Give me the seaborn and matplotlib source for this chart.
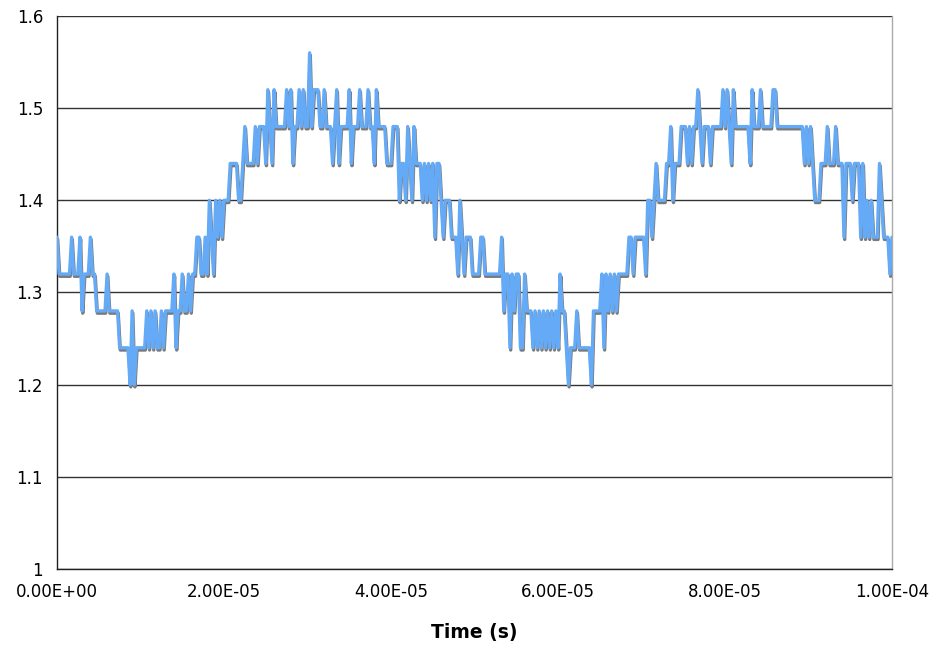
import numpy as np
import pandas as pd
import seaborn as sns
import matplotlib
matplotlib.use("Agg")
from matplotlib import pyplot as plt
from matplotlib import patheffects as pe
from matplotlib.ticker import FuncFormatter

# sampled waveform, one row per microsecond (4 samples of 0.25 us each)
SAMPLE_PERIOD = 0.25e-6
voltage = [
    1.36, 1.32, 1.32, 1.32,  1.32, 1.32, 1.32, 1.36,  1.32, 1.32, 1.32, 1.36,
    1.28, 1.32, 1.32, 1.32,  1.36, 1.32, 1.32, 1.28,  1.28, 1.28, 1.28, 1.28,
    1.32, 1.28, 1.28, 1.28,  1.28, 1.28, 1.24, 1.24,  1.24, 1.24, 1.24, 1.20,
    1.28, 1.20, 1.24, 1.24,  1.24, 1.24, 1.24, 1.28,  1.24, 1.28, 1.24, 1.28,
    1.24, 1.24, 1.28, 1.24,  1.28, 1.28, 1.28, 1.28,  1.32, 1.24, 1.28, 1.28,
    1.32, 1.28, 1.28, 1.32,  1.28, 1.32, 1.32, 1.36,  1.36, 1.32, 1.32, 1.36,
    1.32, 1.40, 1.36, 1.32,  1.40, 1.36, 1.40, 1.36,  1.40, 1.40, 1.40, 1.44,
    1.44, 1.44, 1.44, 1.40,  1.40, 1.44, 1.48, 1.44,  1.44, 1.44, 1.44, 1.48,
    1.44, 1.48, 1.48, 1.48,  1.44, 1.52, 1.48, 1.44,  1.52, 1.48, 1.48, 1.48,
    1.48, 1.48, 1.52, 1.48,  1.52, 1.44, 1.48, 1.48,  1.52, 1.48, 1.52, 1.48,
    1.48, 1.56, 1.48, 1.52,  1.52, 1.52, 1.48, 1.48,  1.52, 1.48, 1.48, 1.48,
    1.44, 1.48, 1.52, 1.44,  1.48, 1.48, 1.48, 1.48,  1.52, 1.44, 1.48, 1.48,
    1.48, 1.52, 1.48, 1.48,  1.48, 1.52, 1.48, 1.48,  1.44, 1.52, 1.48, 1.48,
    1.48, 1.48, 1.44, 1.44,  1.44, 1.48, 1.48, 1.48,  1.40, 1.44, 1.44, 1.40,
    1.48, 1.44, 1.40, 1.48,  1.44, 1.44, 1.44, 1.40,  1.44, 1.40, 1.44, 1.40,
    1.44, 1.36, 1.44, 1.44,  1.40, 1.36, 1.40, 1.40,  1.40, 1.36, 1.36, 1.36,
    1.32, 1.40, 1.36, 1.32,  1.36, 1.36, 1.36, 1.32,  1.32, 1.32, 1.32, 1.36,
    1.36, 1.32, 1.32, 1.32,  1.32, 1.32, 1.32, 1.32,  1.32, 1.36, 1.28, 1.32,
    1.32, 1.24, 1.32, 1.28,  1.32, 1.32, 1.24, 1.24,  1.32, 1.28, 1.28, 1.28,
    1.24, 1.28, 1.24, 1.28,  1.24, 1.28, 1.24, 1.28,  1.24, 1.28, 1.24, 1.28,
    1.24, 1.32, 1.28, 1.28,  1.24, 1.20, 1.24, 1.24,  1.24, 1.28, 1.24, 1.24,
    1.24, 1.24, 1.24, 1.24,  1.20, 1.28, 1.28, 1.28,  1.28, 1.32, 1.24, 1.32,
    1.28, 1.32, 1.28, 1.32,  1.28, 1.32, 1.32, 1.32,  1.32, 1.32, 1.36, 1.36,
    1.32, 1.36, 1.36, 1.36,  1.36, 1.36, 1.32, 1.40,  1.40, 1.36, 1.40, 1.44,
    1.40, 1.40, 1.40, 1.40,  1.44, 1.44, 1.48, 1.40,  1.44, 1.44, 1.44, 1.48,
    1.48, 1.48, 1.44, 1.48,  1.44, 1.48, 1.48, 1.52,  1.48, 1.44, 1.48, 1.48,
    1.48, 1.44, 1.48, 1.48,  1.48, 1.48, 1.48, 1.52,  1.48, 1.52, 1.48, 1.44,
    1.52, 1.48, 1.48, 1.48,  1.48, 1.48, 1.48, 1.48,  1.44, 1.52, 1.48, 1.48,
    1.48, 1.52, 1.48, 1.48,  1.48, 1.48, 1.48, 1.52,  1.52, 1.48, 1.48, 1.48,
    1.48, 1.48, 1.48, 1.48,  1.48, 1.48, 1.48, 1.48,  1.48, 1.48, 1.44, 1.48,
    1.44, 1.48, 1.44, 1.40,  1.40, 1.40, 1.44, 1.44,  1.44, 1.48, 1.44, 1.44,
    1.44, 1.48, 1.44, 1.44,  1.44, 1.36, 1.44, 1.44,  1.44, 1.40, 1.44, 1.44,
    1.44, 1.36, 1.44, 1.36,  1.40, 1.36, 1.40, 1.36,  1.36, 1.36, 1.44, 1.40,
    1.36, 1.36, 1.36, 1.32,
    1.36,
]
time_s = np.arange(len(voltage)) * SAMPLE_PERIOD

x_ticks = [0, 2e-5, 4e-5, 6e-5, 8e-5, 1e-4]
y_ticks = [1.0, 1.1, 1.2, 1.3, 1.4, 1.5, 1.6]
y_tick_labels = ["1", "1.1", "1.2", "1.3", "1.4", "1.5", "1.6"]

data = pd.DataFrame({"Time (s)": time_s, "Voltage": voltage})

sns.set_style("white")
plt.rcParams["font.family"] = ["DejaVu Sans"]

fig = plt.figure(figsize=(9.37, 6.47), dpi=100)
ax = fig.add_axes([57 / 937, 1 - 569 / 647, 835 / 937, 553 / 647])

sns.lineplot(
    data=data, x="Time (s)", y="Voltage", ax=ax,
    color="#64aaf6", linewidth=2.4, zorder=3,
    path_effects=[pe.SimpleLineShadow(offset=(0.5, -1.6), shadow_color="#7a7a7a", alpha=1.0),
                  pe.Normal()],
)

ax.set_xlim(x_ticks[0], x_ticks[-1])
ax.set_ylim(y_ticks[0], y_ticks[-1])
ax.set_xticks(x_ticks)
ax.xaxis.set_major_formatter(FuncFormatter(lambda v, p: f"{v:.2E}"))
ax.set_yticks(y_ticks)
ax.set_yticklabels(y_tick_labels)

ax.yaxis.grid(True, color="#333333", linewidth=1.0)
ax.set_axisbelow(True)
ax.tick_params(axis="both", labelsize=12, colors="black", length=5, width=1,
               direction="out", pad=5)

ax.spines["top"].set_visible(False)
ax.spines["left"].set_color("#222222")
ax.spines["bottom"].set_color("#222222")
ax.spines["right"].set_color("#aaaaaa")
for s in ["left", "bottom", "right"]:
    ax.spines[s].set_linewidth(1.0)

ax.set_xlabel("Time (s)", fontsize=13.5, fontweight="bold", labelpad=16, color="black")
ax.set_ylabel("")

fig.savefig("out.png", dpi=100)
